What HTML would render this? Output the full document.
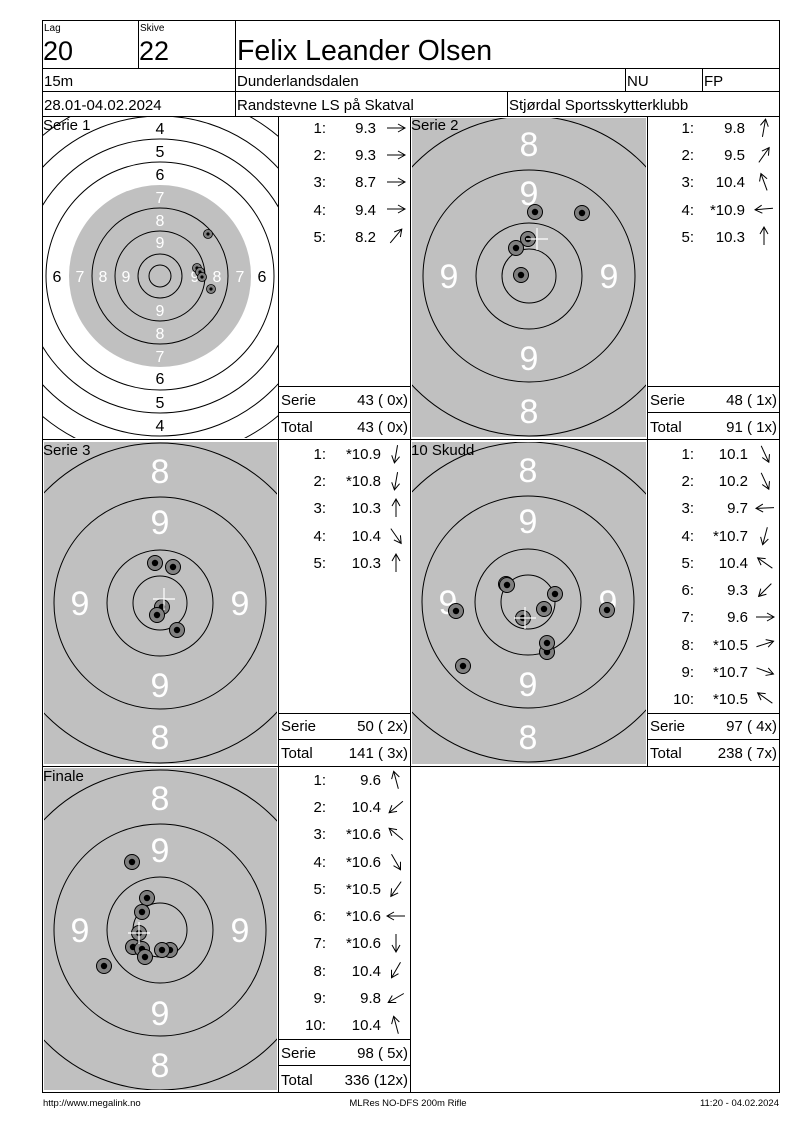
<!DOCTYPE html>
<html><head><meta charset="utf-8"><style>
html,body{margin:0;padding:0;background:#fff;}
svg{display:block;font-family:"Liberation Sans",sans-serif;}
</style></head><body>
<svg width="800" height="1130" viewBox="0 0 800 1130" xmlns="http://www.w3.org/2000/svg">
<defs>
<clipPath id="c1"><rect x="43" y="117" width="235" height="321"/></clipPath>
<clipPath id="c2"><rect x="412" y="118" width="234" height="319"/></clipPath>
<clipPath id="c3"><rect x="44" y="442" width="233" height="322"/></clipPath>
<clipPath id="c4"><rect x="412" y="442" width="234" height="322"/></clipPath>
<clipPath id="c5"><rect x="44" y="768" width="233" height="322"/></clipPath>
<g id="rings" fill="none" stroke="#000" stroke-width="1">
<circle r="27"/><circle r="53"/><circle r="106"/><circle r="160"/>
</g>
<g id="sh"><circle r="7.5" fill="#808080" stroke="#000" stroke-width="1"/><circle r="3.2" fill="#000"/></g>
<g id="sh1"><circle r="4.5" fill="#808080" stroke="#000" stroke-width="0.8"/><circle r="1.6" fill="#000"/></g>
<g id="cr" stroke="#fff" stroke-width="1.2"><line x1="-11" y1="0" x2="11" y2="0"/><line x1="0" y1="-11" x2="0" y2="11"/></g>
<g id="ar" fill="none" stroke="#000" stroke-width="1"><line x1="-9" y1="0" x2="9" y2="0"/><polyline points="2,-4 9,0 2,4"/></g>
</defs>

<g fill="none" stroke="#000" stroke-width="1">
<rect x="42.5" y="20.5" width="737" height="1072"/>
<line x1="42" y1="68.5" x2="780" y2="68.5"/>
<line x1="42" y1="91.5" x2="780" y2="91.5"/>
<line x1="42" y1="116.5" x2="780" y2="116.5"/>
<line x1="138.5" y1="20" x2="138.5" y2="68"/>
<line x1="235.5" y1="20" x2="235.5" y2="116"/>
<line x1="625.5" y1="68" x2="625.5" y2="91"/>
<line x1="702.5" y1="68" x2="702.5" y2="91"/>
<line x1="507.5" y1="91" x2="507.5" y2="116"/>
<line x1="42" y1="439.5" x2="780" y2="439.5"/>
<line x1="42" y1="766.5" x2="780" y2="766.5"/>
<line x1="278.5" y1="116" x2="278.5" y2="1092"/>
<line x1="410.5" y1="116" x2="410.5" y2="1092"/>
<line x1="647.5" y1="116" x2="647.5" y2="766"/>
<line x1="278" y1="386.5" x2="410" y2="386.5"/>
<line x1="278" y1="412.5" x2="410" y2="412.5"/>
<line x1="647" y1="386.5" x2="780" y2="386.5"/>
<line x1="647" y1="412.5" x2="780" y2="412.5"/>
<line x1="278" y1="713.5" x2="410" y2="713.5"/>
<line x1="278" y1="739.5" x2="410" y2="739.5"/>
<line x1="647" y1="713.5" x2="780" y2="713.5"/>
<line x1="647" y1="739.5" x2="780" y2="739.5"/>
<line x1="278" y1="1039.5" x2="410" y2="1039.5"/>
<line x1="278" y1="1065.5" x2="410" y2="1065.5"/>
</g>
<g fill="#000">
<text x="44" y="31" font-size="10">Lag</text>
<text x="140" y="31" font-size="10">Skive</text>
<text x="43" y="60" font-size="27">20</text>
<text x="139" y="60" font-size="27">22</text>
<text x="237" y="60" font-size="28.5">Felix Leander Olsen</text>
<text x="44" y="86" font-size="15">15m</text>
<text x="237" y="86" font-size="15">Dunderlandsdalen</text>
<text x="627" y="86" font-size="15">NU</text>
<text x="704" y="86" font-size="15">FP</text>
<text x="44" y="110" font-size="15">28.01-04.02.2024</text>
<text x="237" y="110" font-size="15">Randstevne LS på Skatval</text>
<text x="509" y="110" font-size="15">Stjørdal Sportsskytterklubb</text>
</g>

<g clip-path="url(#c1)">
<circle cx="160" cy="276" r="91" fill="#c0c0c0"/>
<g fill="none" stroke="#000" stroke-width="1">
<circle cx="160" cy="276" r="11"/><circle cx="160" cy="276" r="22"/><circle cx="160" cy="276" r="45"/><circle cx="160" cy="276" r="68"/>
<circle cx="160" cy="276" r="114"/><circle cx="160" cy="276" r="137"/><circle cx="160" cy="276" r="160"/><circle cx="160" cy="276" r="183"/>
</g>
<g font-size="16" text-anchor="middle">
<text x="160" y="134">4</text><text x="160" y="157">5</text><text x="160" y="180">6</text>
<text x="160" y="384">6</text><text x="160" y="408">5</text><text x="160" y="431">4</text>
<text x="57" y="282">6</text><text x="262" y="282">6</text>
<g fill="#fff"><text x="160" y="203">7</text><text x="160" y="226">8</text><text x="160" y="248">9</text>
<text x="160" y="316">9</text><text x="160" y="339">8</text><text x="160" y="362">7</text>
<text x="80" y="282">7</text><text x="103" y="282">8</text><text x="126" y="282">9</text>
<text x="195" y="282">9</text><text x="217" y="282">8</text><text x="240" y="282">7</text></g>
</g>
<use href="#sh1" x="208" y="234"/><use href="#sh1" x="197" y="268"/><use href="#sh1" x="200" y="272"/><use href="#sh1" x="202" y="277"/><use href="#sh1" x="211" y="289"/>
</g>
<text x="43" y="130" font-size="15">Serie 1</text>

<g>
<rect x="412" y="118" width="234" height="319" fill="#c0c0c0"/>
<g clip-path="url(#c2)"><use href="#rings" x="529" y="276"/></g>
<g fill="#fff" font-size="34" text-anchor="middle">
<text x="529" y="156">8</text><text x="529" y="205">9</text><text x="529" y="370">9</text><text x="529" y="423">8</text>
<text x="449" y="288">9</text><text x="609" y="288">9</text></g>
<use href="#sh" x="535" y="212"/><use href="#sh" x="582" y="213"/><use href="#sh" x="528" y="239"/><use href="#sh" x="516" y="248"/><use href="#sh" x="521" y="275"/>
<use href="#cr" x="537" y="239"/>
<text x="411" y="130" font-size="15">Serie 2</text>
</g>

<g>
<rect x="44" y="442" width="233" height="322" fill="#c0c0c0"/>
<g clip-path="url(#c3)"><use href="#rings" x="160" y="603"/></g>
<g fill="#fff" font-size="34" text-anchor="middle">
<text x="160" y="483">8</text><text x="160" y="534">9</text><text x="160" y="697">9</text><text x="160" y="749">8</text>
<text x="80" y="615">9</text><text x="240" y="615">9</text></g>
<use href="#sh" x="155" y="563"/><use href="#sh" x="173" y="567"/><use href="#sh" x="162" y="607"/><use href="#sh" x="157" y="615"/><use href="#sh" x="177" y="630"/>
<use href="#cr" x="164" y="599"/>
<text x="43" y="455" font-size="15">Serie 3</text>
</g>

<g>
<rect x="412" y="442" width="234" height="322" fill="#c0c0c0"/>
<g clip-path="url(#c4)"><use href="#rings" x="528" y="602"/></g>
<g fill="#fff" font-size="34" text-anchor="middle">
<text x="528" y="482">8</text><text x="528" y="533">9</text><text x="528" y="696">9</text><text x="528" y="749">8</text>
<text x="448" y="614">9</text><text x="608" y="614">9</text></g>
<use href="#sh" x="506" y="584"/><use href="#sh" x="507" y="585"/><use href="#sh" x="555" y="594"/><use href="#sh" x="544" y="609"/><use href="#sh" x="456" y="611"/><use href="#sh" x="607" y="610"/><use href="#sh" x="523" y="618"/><use href="#sh" x="547" y="652"/><use href="#sh" x="547" y="643"/><use href="#sh" x="463" y="666"/>
<use href="#cr" x="525" y="618"/>
<text x="411" y="455" font-size="15">10 Skudd</text>
</g>

<g>
<rect x="44" y="768" width="233" height="322" fill="#c0c0c0"/>
<g clip-path="url(#c5)"><use href="#rings" x="160" y="930"/></g>
<g fill="#fff" font-size="34" text-anchor="middle">
<text x="160" y="810">8</text><text x="160" y="862">9</text><text x="160" y="1025">9</text><text x="160" y="1077">8</text>
<text x="80" y="942">9</text><text x="240" y="942">9</text></g>
<use href="#sh" x="132" y="862"/><use href="#sh" x="147" y="898"/><use href="#sh" x="142" y="912"/><use href="#sh" x="139" y="933"/><use href="#sh" x="133" y="947"/><use href="#sh" x="170" y="950"/><use href="#sh" x="162" y="950"/><use href="#sh" x="142" y="949"/><use href="#sh" x="145" y="957"/><use href="#sh" x="104" y="966"/>
<use href="#cr" x="139" y="933"/>
<text x="43" y="781" font-size="15">Finale</text>
</g>

<g font-size="15" fill="#000">
<g text-anchor="end">
<text x="326" y="133">1:</text><text x="376" y="133">9.3</text>
<text x="326" y="160">2:</text><text x="376" y="160">9.3</text>
<text x="326" y="187">3:</text><text x="376" y="187">8.7</text>
<text x="326" y="215">4:</text><text x="376" y="215">9.4</text>
<text x="326" y="242">5:</text><text x="376" y="242">8.2</text>
<text x="408" y="405">43 ( 0x)</text><text x="408" y="432">43 ( 0x)</text>
<text x="694" y="133">1:</text><text x="745" y="133">9.8</text>
<text x="694" y="160">2:</text><text x="745" y="160">9.5</text>
<text x="694" y="187">3:</text><text x="745" y="187">10.4</text>
<text x="694" y="215">4:</text><text x="745" y="215">*10.9</text>
<text x="694" y="242">5:</text><text x="745" y="242">10.3</text>
<text x="777" y="405">48 ( 1x)</text><text x="777" y="432">91 ( 1x)</text>
<text x="326" y="459">1:</text><text x="381" y="459">*10.9</text>
<text x="326" y="486">2:</text><text x="381" y="486">*10.8</text>
<text x="326" y="513">3:</text><text x="381" y="513">10.3</text>
<text x="326" y="541">4:</text><text x="381" y="541">10.4</text>
<text x="326" y="568">5:</text><text x="381" y="568">10.3</text>
<text x="408" y="731">50 ( 2x)</text><text x="408" y="758">141 ( 3x)</text>
<text x="694" y="459">1:</text><text x="748" y="459">10.1</text>
<text x="694" y="486">2:</text><text x="748" y="486">10.2</text>
<text x="694" y="513">3:</text><text x="748" y="513">9.7</text>
<text x="694" y="541">4:</text><text x="748" y="541">*10.7</text>
<text x="694" y="568">5:</text><text x="748" y="568">10.4</text>
<text x="694" y="595">6:</text><text x="748" y="595">9.3</text>
<text x="694" y="622">7:</text><text x="748" y="622">9.6</text>
<text x="694" y="650">8:</text><text x="748" y="650">*10.5</text>
<text x="694" y="677">9:</text><text x="748" y="677">*10.7</text>
<text x="694" y="704">10:</text><text x="748" y="704">*10.5</text>
<text x="777" y="731">97 ( 4x)</text><text x="777" y="758">238 ( 7x)</text>
<text x="326" y="785">1:</text><text x="381" y="785">9.6</text>
<text x="326" y="812">2:</text><text x="381" y="812">10.4</text>
<text x="326" y="839">3:</text><text x="381" y="839">*10.6</text>
<text x="326" y="867">4:</text><text x="381" y="867">*10.6</text>
<text x="326" y="894">5:</text><text x="381" y="894">*10.5</text>
<text x="326" y="921">6:</text><text x="381" y="921">*10.6</text>
<text x="326" y="948">7:</text><text x="381" y="948">*10.6</text>
<text x="326" y="976">8:</text><text x="381" y="976">10.4</text>
<text x="326" y="1003">9:</text><text x="381" y="1003">9.8</text>
<text x="326" y="1030">10:</text><text x="381" y="1030">10.4</text>
<text x="408" y="1058">98 ( 5x)</text><text x="408" y="1085">336 (12x)</text>
</g>
<text x="281" y="405">Serie</text><text x="281" y="432">Total</text>
<text x="650" y="405">Serie</text><text x="650" y="432">Total</text>
<text x="281" y="731">Serie</text><text x="281" y="758">Total</text>
<text x="650" y="731">Serie</text><text x="650" y="758">Total</text>
<text x="281" y="1058">Serie</text><text x="281" y="1085">Total</text>
</g>

<g>
<use href="#ar" transform="translate(396,128)"/>
<use href="#ar" transform="translate(396,155)"/>
<use href="#ar" transform="translate(396,182)"/>
<use href="#ar" transform="translate(396,209)"/>
<use href="#ar" transform="translate(396,236) rotate(-50)"/>
<use href="#ar" transform="translate(764,128) rotate(-80)"/>
<use href="#ar" transform="translate(764,155) rotate(-55)"/>
<use href="#ar" transform="translate(764,182) rotate(-110)"/>
<use href="#ar" transform="translate(764,209) rotate(175)"/>
<use href="#ar" transform="translate(764,236) rotate(-90)"/>
<use href="#ar" transform="translate(396,454) rotate(100)"/>
<use href="#ar" transform="translate(396,481) rotate(100)"/>
<use href="#ar" transform="translate(396,508) rotate(-90)"/>
<use href="#ar" transform="translate(396,536) rotate(55)"/>
<use href="#ar" transform="translate(396,563) rotate(-90)"/>
<use href="#ar" transform="translate(765,454) rotate(65)"/>
<use href="#ar" transform="translate(765,481) rotate(65)"/>
<use href="#ar" transform="translate(765,508) rotate(178)"/>
<use href="#ar" transform="translate(765,536) rotate(105)"/>
<use href="#ar" transform="translate(765,563) rotate(-145)"/>
<use href="#ar" transform="translate(765,590) rotate(135)"/>
<use href="#ar" transform="translate(765,617)"/>
<use href="#ar" transform="translate(765,644) rotate(-18)"/>
<use href="#ar" transform="translate(765,671) rotate(20)"/>
<use href="#ar" transform="translate(765,698) rotate(-145)"/>
<use href="#ar" transform="translate(396,780) rotate(-105)"/>
<use href="#ar" transform="translate(396,807) rotate(140)"/>
<use href="#ar" transform="translate(396,834) rotate(-140)"/>
<use href="#ar" transform="translate(396,862) rotate(60)"/>
<use href="#ar" transform="translate(396,889) rotate(125)"/>
<use href="#ar" transform="translate(396,916) rotate(180)"/>
<use href="#ar" transform="translate(396,943) rotate(90)"/>
<use href="#ar" transform="translate(396,970) rotate(120)"/>
<use href="#ar" transform="translate(396,998) rotate(150)"/>
<use href="#ar" transform="translate(396,1025) rotate(-105)"/>
</g>

<g font-size="9.5" fill="#000">
<text x="43" y="1106">http://www.megalink.no</text>
<text x="408" y="1106" text-anchor="middle">MLRes NO-DFS 200m Rifle</text>
<text x="779" y="1106" text-anchor="end">11:20 - 04.02.2024</text>
</g>
</svg>
</body></html>
